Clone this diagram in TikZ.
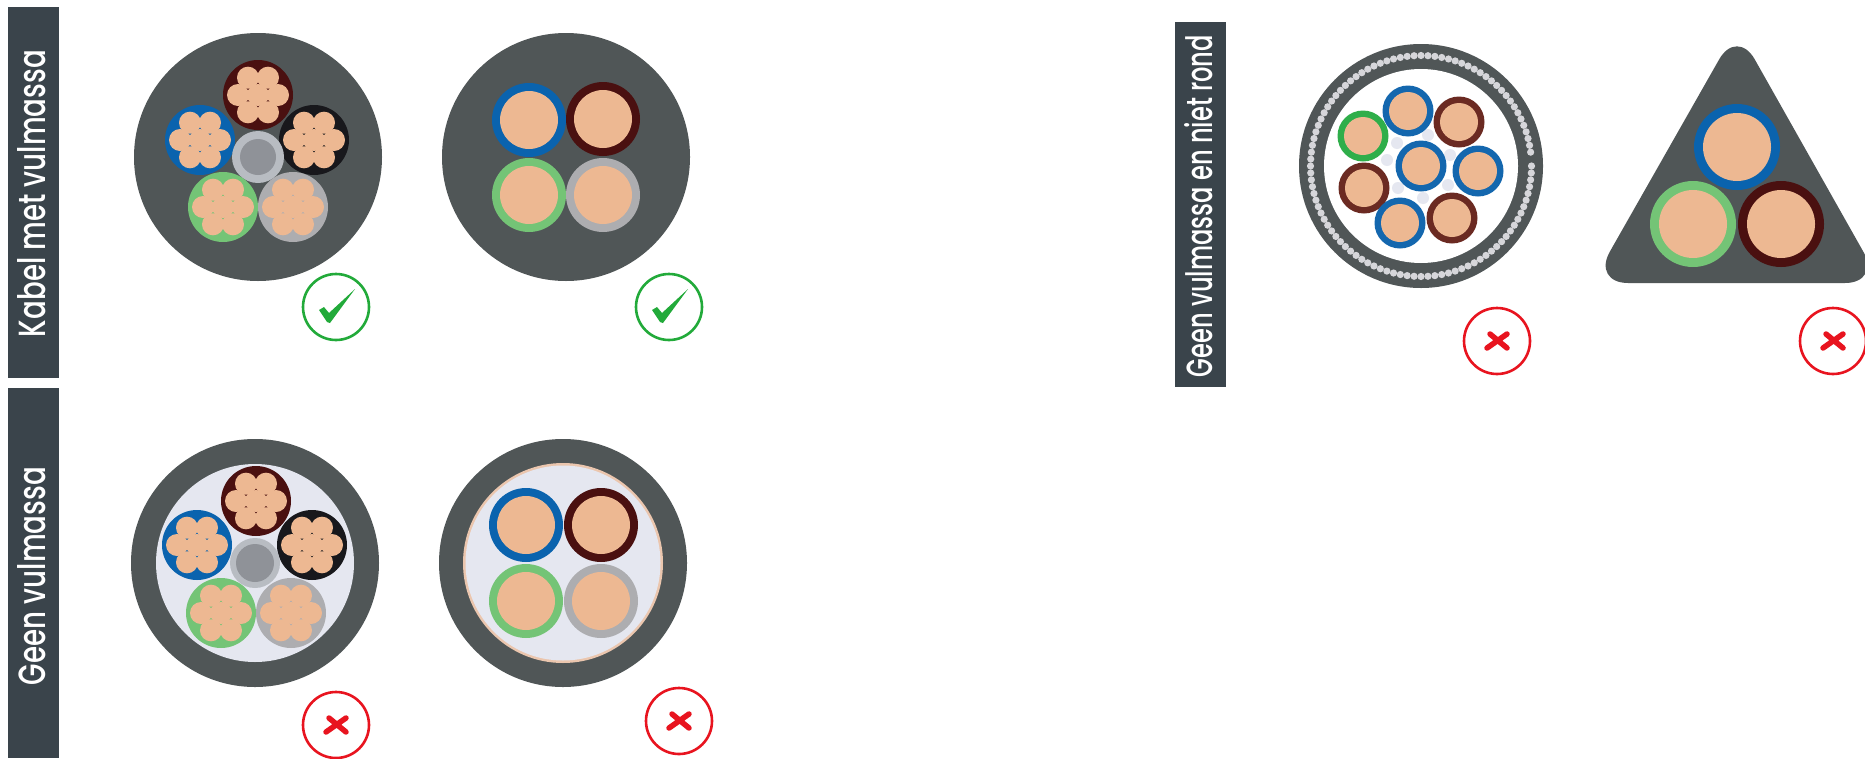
\documentclass[tikz,border=0pt]{standalone}
\usepackage{graphicx}
\usepackage{fontspec}
\usetikzlibrary{calc}
\setmainfont{Poppins Medium}
\definecolor{sheath}{HTML}{505657}
\definecolor{panel}{HTML}{3A444B}
\definecolor{cblue}{HTML}{0A63AE}
\definecolor{cbrown}{HTML}{4A1010}
\definecolor{cblack}{HTML}{18181C}
\definecolor{cgreen}{HTML}{74C476}
\definecolor{cgrey}{HTML}{ADADB0}
\definecolor{copper}{HTML}{EDB892}
\definecolor{filler}{HTML}{E5E7F0}
\definecolor{okgreen}{HTML}{22AA3A}
\definecolor{nored}{HTML}{E8141F}
\definecolor{mbrown}{HTML}{6B2A22}
\definecolor{mgreen}{HTML}{2FAE4A}
\definecolor{mblue}{HTML}{1467AE}
\definecolor{bead}{HTML}{D6D6DA}
\definecolor{ringgrey}{HTML}{B8BCC2}
\definecolor{coregrey}{HTML}{8F9298}
\tikzset{
  panelbox/.style={fill=panel,draw=none},
  paneltext/.style={text=white,rotate=90,inner sep=0pt,font=\fontsize{24}{24}\selectfont},
  ring/.style={line width=2.6pt,draw=#1,fill=none},
}
% stranded core: x, y, colour
\newcommand{\strandcore}[3]{%
  \fill[#3] (#1,#2) circle (35pt);
  \fill[copper] (#1,#2) circle (11pt);
  \foreach \a in {0,60,...,300} \fill[copper] ($(#1,#2)+(\a:20)$) circle (11pt);
}
% solid core: x, y, colour, outer radius, inner radius
\newcommand{\solidcore}[5]{%
  \fill[#3] (#1,#2) circle (#4pt);
  \fill[copper] (#1,#2) circle (#5pt);
}
\newcommand{\okmark}[2]{%
  \draw[ring=okgreen] (#1,#2) circle (33pt);
  \fill[okgreen,shift={(#1,#2)}] (-17,3) -- (-12,0) -- (-7,6) -- (19,-18) -- (-6,16) -- (-9,15) -- cycle;
}
\newcommand{\nomark}[2]{%
  \draw[ring=nored] (#1,#2) circle (33pt);
  \draw[nored,line width=5.5pt,line cap=round,shift={(#1,#2)}] (-10,7) -- (10,-7) (-7,-7) -- (10,7);
}
\begin{document}
\begin{tikzpicture}[x=1pt,y=-1pt]
\useasboundingbox (0,0) rectangle (1865,758);
\clip (0,0) rectangle (1865,758);
\fill[white] (0,0) rectangle (1865,758);

% side panels
\fill[panelbox] (8,7) rectangle (59,378);
\node[paneltext] (lab1) at (31.5,193.5) {\resizebox{287pt}{28pt}{Kabel met vulmassa}};
\fill[panelbox] (8,388) rectangle (59,758);
\node[paneltext] (lab2) at (31.5,576) {\resizebox{218pt}{28pt}{Geen vulmassa}};
\fill[panelbox] (1175,22) rectangle (1226,387);
\node[paneltext] (lab3) at (1199,206) {\resizebox{342pt}{28pt}{Geen vulmassa en niet rond}};

% cable 1
\fill[sheath] (258,157) circle (124pt);
\strandcore{258}{95}{cbrown}
\strandcore{200}{140}{cblue}
\strandcore{314}{140}{cblack}
\fill[ringgrey] (258,157) circle (26pt);
\fill[coregrey] (258,157) circle (18pt);
\strandcore{223}{207}{cgreen}
\strandcore{293}{207}{cgrey}
\okmark{336}{307}

% cable 2
\fill[sheath] (566,157) circle (124pt);
\solidcore{529}{120}{cblue}{37}{29}
\solidcore{603}{119}{cbrown}{37}{29}
\solidcore{529}{195}{cgreen}{37}{29}
\solidcore{603}{195}{cgrey}{37}{29}
\okmark{669}{307}

% cable 3
\fill[sheath] (255,563) circle (124pt);
\fill[filler] (255,563) circle (99pt);
\strandcore{256}{501}{cbrown}
\strandcore{197}{545}{cblue}
\strandcore{312}{545}{cblack}
\fill[ringgrey] (255,563) circle (25pt);
\fill[coregrey] (255,563) circle (19pt);
\strandcore{221}{613}{cgreen}
\strandcore{291}{613}{cgrey}
\nomark{336}{725}

% cable 4
\fill[sheath] (563,563) circle (124pt);
\fill[copper!70!filler] (563,563) circle (100pt);
\fill[filler] (563,563) circle (97.5pt);
\solidcore{526}{525}{cblue}{37}{29}
\solidcore{601}{525}{cbrown}{37}{29}
\solidcore{526}{601}{cgreen}{37}{29}
\solidcore{601}{601}{cgrey}{37}{29}
\nomark{679}{721}

% cable 5
\fill[sheath] (1421,166) circle (122pt);
\fill[white] (1421,166) circle (97pt);
\foreach \a in {0,3.6,...,356.4} \fill[bead] ($(1421,166)+(\a:110.5)$) circle (3.6pt);
\foreach \px/\py in {1397/143,1428/135,1450/155,1387/160,1398/188,1423/198,1448/185}
  \fill[filler] (\px,\py) circle (6pt);
\solidcore{1408}{111}{mblue}{25.5}{19}
\solidcore{1459}{122}{mbrown}{25.5}{19}
\solidcore{1363}{136}{mgreen}{25.5}{19}
\solidcore{1421}{166}{mblue}{25.5}{19}
\solidcore{1478}{171}{mblue}{25.5}{19}
\solidcore{1364}{188}{mbrown}{25.5}{19}
\solidcore{1400}{223}{mblue}{25.5}{19}
\solidcore{1452}{218}{mbrown}{25.5}{19}
\nomark{1497}{341}

% cable 6
\fill[sheath,rounded corners=36pt] (1737,28) -- (1881,283) -- (1592,283) -- cycle;
\solidcore{1737}{147}{cblue}{43}{34}
\solidcore{1693}{224}{cgreen}{43}{34}
\solidcore{1781}{224}{cbrown}{43}{34}
\nomark{1833}{341}
\end{tikzpicture}
\end{document}
